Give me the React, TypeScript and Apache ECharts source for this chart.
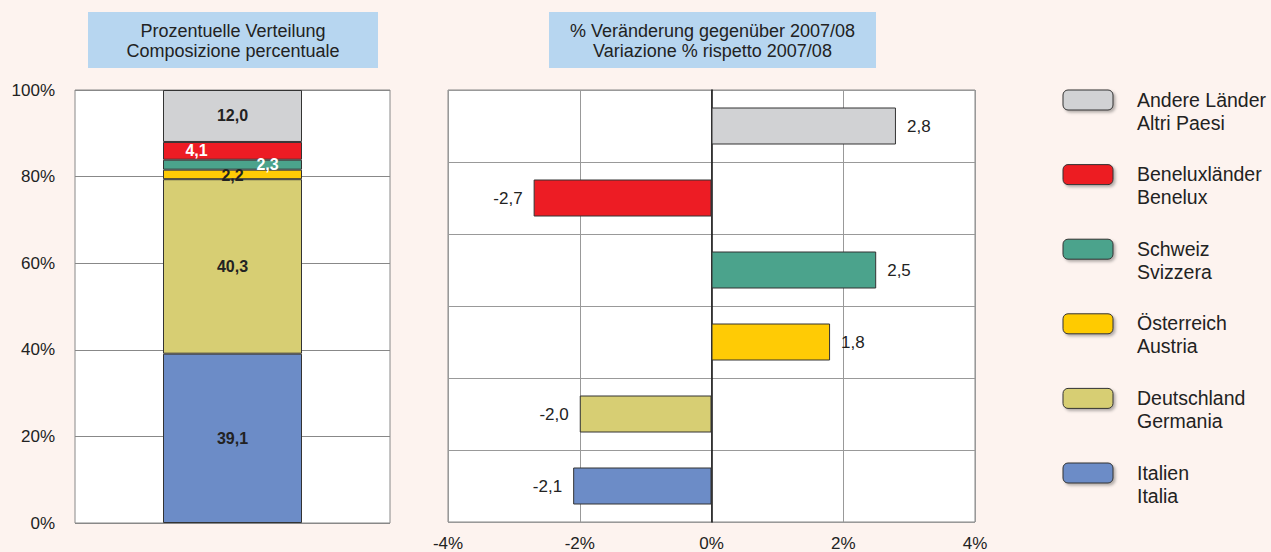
import React, { useEffect, useRef } from "react";
import * as echarts from "echarts";

const deNames = ["Andere Länder", "Beneluxländer", "Schweiz", "Österreich", "Deutschland", "Italien"];
const itNames = ["Altri Paesi", "Benelux", "Svizzera", "Austria", "Germania", "Italia"];
const shareValues = [12.0, 4.1, 2.3, 2.2, 40.3, 39.1];
const changeValues = [2.8, -2.7, 2.5, 1.8, -2.0, -2.1];
const titleLeft = ["Prozentuelle Verteilung", "Composizione percentuale"];
const titleRight = ["% Veränderung gegenüber 2007/08", "Variazione % rispetto 2007/08"];

const palette = ["#D1D2D4", "#ED1C24", "#4BA38C", "#FFCB05", "#D7CE73", "#6C8CC7"];
const FONT = "'Liberation Sans', Arial, sans-serif";
const fmt = (v: number) => v.toFixed(1).replace(".", ",");

const labelStyle: any[] = [
  { color: "#222", offset: [0, 0] },
  { color: "#fff", offset: [-36, 0] },
  { color: "#fff", offset: [35, 0] },
  { color: "#222", offset: [0, 1] },
  { color: "#222", offset: [0, 0] },
  { color: "#222", offset: [0, 0] },
];

export default function App() {
  const ref = useRef<HTMLDivElement>(null);
  useEffect(() => {
    if (!ref.current) return;
    const chart = echarts.init(ref.current, null, { renderer: "svg" });

    const stackSeries = [5, 4, 3, 2, 1, 0].map((i) => ({
      type: "bar",
      name: itNames[i],
      xAxisIndex: 0,
      yAxisIndex: 0,
      stack: "share",
      barWidth: 139,
      data: [shareValues[i]],
      itemStyle: { color: palette[i], borderColor: "#333", borderWidth: 1 },
      label: {
        show: true,
        position: "inside",
        formatter: () => fmt(shareValues[i]),
        fontFamily: FONT,
        fontSize: 16,
        fontWeight: "bold",
        color: labelStyle[i].color,
        offset: labelStyle[i].offset,
      },
    }));

    const changeSeries = {
      type: "bar",
      xAxisIndex: 1,
      yAxisIndex: 1,
      barWidth: 37,
      data: changeValues.map((v, i) => ({
        value: v,
        itemStyle: { color: palette[i], borderColor: "#333", borderWidth: 1 },
        label: { position: v < 0 ? "left" : "right" },
      })),
      label: {
        show: true,
        distance: 11,
        formatter: (p: any) => fmt(p.value),
        fontFamily: FONT,
        fontSize: 17,
        color: "#222",
      },
    };

    const titleBox = (x: number, w: number, lines: string[]) => ({
      type: "group",
      children: [
        { type: "rect", shape: { x, y: 12, width: w, height: 56 }, style: { fill: "#B7D6F0" } },
        {
          type: "text",
          style: {
            text: lines.join("\n"),
            x: x + w / 2,
            y: 41,
            align: "center",
            verticalAlign: "middle",
            fontFamily: FONT,
            fontSize: 18,
            lineHeight: 20,
            fill: "#222",
          },
        },
      ],
    });

    const legendItems = deNames.map((n, i) => {
      const cy = 100 + i * 74.6;
      return {
        type: "group",
        children: [
          {
            type: "rect",
            shape: { x: 1063, y: cy - 10, width: 50, height: 20, r: 5 },
            style: {
              fill: palette[i],
              stroke: "#333",
              lineWidth: 1,
              shadowBlur: 3,
              shadowOffsetX: 2,
              shadowOffsetY: 2,
              shadowColor: "rgba(0,0,0,0.3)",
            },
          },
          {
            type: "text",
            style: {
              text: n + "\n" + itNames[i],
              x: 1137,
              y: cy - 12,
              align: "left",
              verticalAlign: "top",
              fontFamily: FONT,
              fontSize: 19.5,
              lineHeight: 23,
              fill: "#222",
            },
          },
        ],
      };
    });

    chart.setOption({
      animation: false,
      backgroundColor: "#FDF3EF",
      textStyle: { fontFamily: FONT },
      grid: [
        { left: 75, top: 90, width: 315, height: 433, show: true, backgroundColor: "#fff", borderColor: "#888", borderWidth: 1 },
        { left: 448, top: 90, width: 527, height: 433, show: true, backgroundColor: "#fff", borderColor: "#888", borderWidth: 1 },
      ],
      xAxis: [
        {
          gridIndex: 0,
          type: "category",
          data: ["share"],
          axisLabel: { show: false },
          axisTick: { show: false },
          axisLine: { show: false },
        },
        {
          gridIndex: 1,
          type: "value",
          min: -4,
          max: 4,
          interval: 2,
          axisLabel: { formatter: "{value}%", fontSize: 17, color: "#222", margin: 13, fontFamily: FONT },
          axisTick: { show: false },
          axisLine: { show: false },
          splitLine: { show: true, lineStyle: { color: "#999", width: 1 } },
        },
      ],
      yAxis: [
        {
          gridIndex: 0,
          type: "value",
          min: 0,
          max: 100,
          interval: 20,
          axisLabel: { formatter: "{value}%", fontSize: 17, color: "#222", margin: 20, fontFamily: FONT },
          axisTick: { show: false },
          axisLine: { show: false },
          splitLine: { show: true, lineStyle: { color: "#888", width: 1 } },
        },
        {
          gridIndex: 1,
          type: "category",
          inverse: true,
          data: itNames,
          axisLabel: { show: false },
          axisTick: { show: false },
          axisLine: { show: true, onZero: true, lineStyle: { color: "#111", width: 1.5 } },
          splitLine: { show: true, interval: 0, lineStyle: { color: "#999", width: 1 } },
        },
      ],
      series: [...stackSeries, changeSeries],
      graphic: [titleBox(88, 290, titleLeft), titleBox(549, 327, titleRight), ...legendItems],
    } as any);

    return () => chart.dispose();
  }, []);

  return (
    <div
      ref={ref}
      style={{ position: "absolute", left: 0, top: 0, width: 1271, height: 552, background: "#FDF3EF" }}
    />
  );
}
